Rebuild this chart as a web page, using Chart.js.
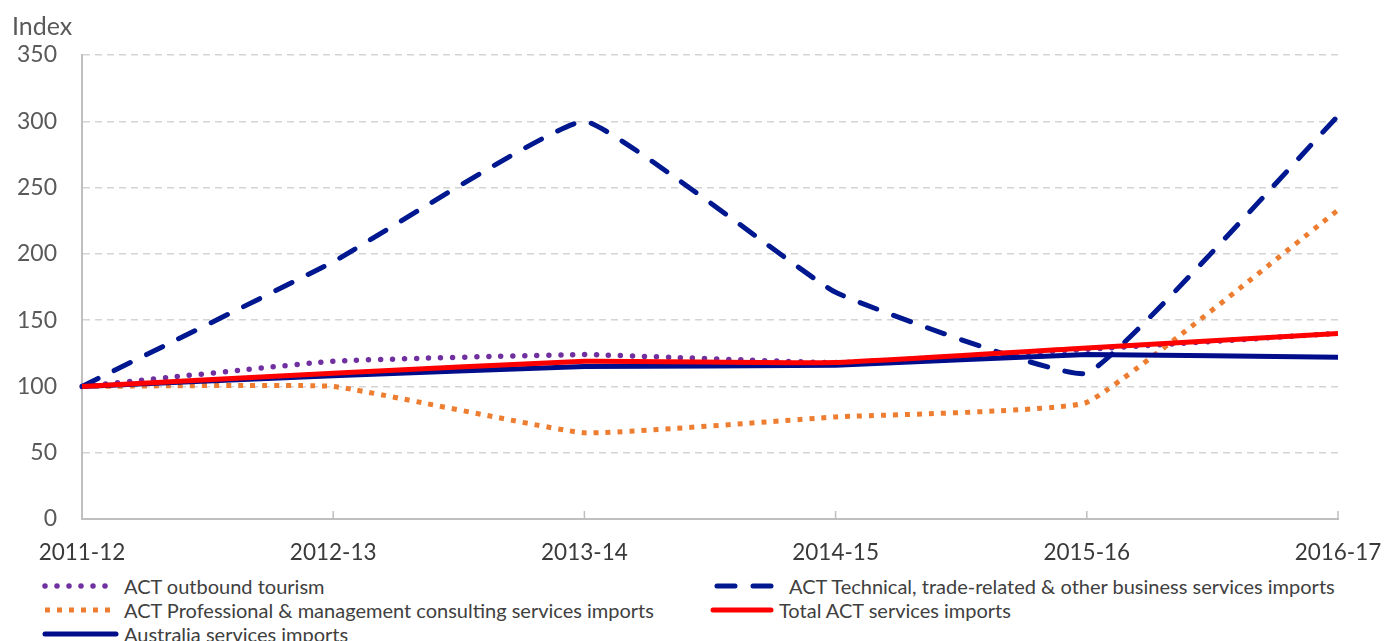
<!DOCTYPE html>
<html>
<head>
<meta charset="utf-8">
<script src="https://cdn.jsdelivr.net/npm/chart.js@4"></script>
<style>
  body { margin:0; background:#fff; font-family: Lato, sans-serif; }
  #wrap { position:relative; width:1385px; height:641px; overflow:hidden; }
  #box { position:absolute; left:0; top:0; width:1385px; height:572px; }
  #yTitle { position:absolute; left:12px; top:10px; font-size:25px; color:#595959; }
  .leg { position:absolute; height:24px; display:flex; align-items:center; font-size:20px; color:#404040; white-space:nowrap; }
  .leg canvas { margin-right:4px; }
</style>
</head>
<body>
<div id="wrap">
  <div id="box"><canvas id="myChart"></canvas></div>
  <div id="yTitle">Index</div>
  <div id="legend"></div>
</div>
<script>

// categories
let years = ['2011-12','2012-13','2013-14','2014-15','2015-16','2016-17']

// series (index, 2011-12 = 100)
let tourism      = [100, 119, 124, 118, 128, 140]
let technical    = [100, 194, 300, 171, 110, 304]
let professional = [100, 100,  65,  77,  88, 233]
let totalAct     = [100, 110, 119, 118, 129, 140]
let australia    = [100, 108, 115, 116, 124, 122]

let yTicks = [0, 50, 100, 150, 200, 250, 300, 350]


let dsets = [
  {
    label:'ACT outbound tourism',
    data:tourism,
    borderColor:'#7030a0',
    borderWidth:5.5,
    borderDash:[0,12],
    borderCapStyle:'round',
    order:5,
    leg:{x:41, y:586, w:79}
  },
  {
    label:'ACT Technical, trade-related & other business services imports',
    data:technical,
    borderColor:'#00188f',
    borderWidth:5,
    borderDash:[18,18],
    borderCapStyle:'round',
    order:4,
    leg:{x:713, y:586, w:72}
  },
  {
    label:'ACT Professional & management consulting services imports',
    data:professional,
    borderColor:'#ed7d31',
    borderWidth:5,
    borderDash:[5,7],
    borderCapStyle:'butt',
    order:3,
    leg:{x:41, y:610, w:79}
  },
  {
    label:'Total ACT services imports',
    data:totalAct,
    borderColor:'#ff0000',
    borderWidth:5,
    order:1,
    leg:{x:709, y:610, w:66}
  },
  {
    label:'Australia services imports',
    data:australia,
    borderColor:'#000d8a',
    borderWidth:5,
    order:2,
    leg:{x:41, y:634, w:79}
  }
]

dsets.forEach(d => {
  d.fill = false
  d.pointRadius = 0
  d.tension = 0.1
  d.borderJoinStyle = 'round'
})


// little tick marks pointing up from the x axis
const xTickPlugin = {
  id:'xTicks',
  afterDatasetsDraw(chart){
    let xs = chart.scales.x
    let ctx = chart.ctx
    let bottom = chart.chartArea.bottom
    ctx.save()
    ctx.strokeStyle = '#bfbfbf'
    ctx.lineWidth = 1.5
    xs.ticks.forEach((t,i) => {
      let px = xs.getPixelForTick(i)
      ctx.beginPath()
      ctx.moveTo(px, bottom)
      ctx.lineTo(px, bottom - 8)
      ctx.stroke()
    })
    ctx.restore()
  }
}


new Chart(
  document.getElementById('myChart'),
  {
    type:'line',
    data:{
      labels:years,
      datasets:dsets,
    },
    plugins:[xTickPlugin],
    options:{
      responsive:true,
      maintainAspectRatio:false,
      animation:false,
      layout:{
        padding:{left:0, right:47, top:55, bottom:0}
      },
      plugins:{
        legend:{display:false},
        tooltip:{enabled:false},
      },
      scales:{
        x:{
          offset:false,
          grid:{display:false},
          border:{display:true, color:'#bfbfbf', width:2},
          ticks:{
            color:'#3a3a3a',
            font:{family:'Lato', size:22.5},
            padding:12,
            maxRotation:0,
            autoSkip:false
          },
          afterFit:(s) => {
            s.height = 53
            s.paddingLeft = 0
            s.paddingRight = 0
          }
        },
        y:{
          min:0,
          max:350,
          afterBuildTicks:(s) => { s.ticks = yTicks.map(v => ({value:v})) },
          grid:{color:'#d4d4d4', lineWidth:1.5, drawTicks:false},
          border:{display:true, color:'#bfbfbf', width:2, dash:[7,5]},
          ticks:{
            color:'#595959',
            font:{family:'Lato', size:23},
            padding:25
          },
          afterFit:(s) => { s.width = 82 }
        }
      }
    }
  }
)


// legend built from the same datasets
let legendDiv = document.getElementById('legend')
dsets.forEach(d => {
  let item = document.createElement('div')
  item.className = 'leg'
  item.style.left = d.leg.x + 'px'
  item.style.top = (d.leg.y - 12) + 'px'
  let c = document.createElement('canvas')
  c.width = d.leg.w
  c.height = 12
  let g = c.getContext('2d')
  g.strokeStyle = d.borderColor
  g.lineWidth = d.borderWidth
  g.lineCap = d.borderCapStyle || 'round'
  if(d.borderDash) g.setLineDash(d.borderDash)
  g.beginPath()
  g.moveTo(4,6)
  g.lineTo(d.leg.w - 4,6)
  g.stroke()
  item.appendChild(c)
  let span = document.createElement('span')
  span.textContent = d.label
  item.appendChild(span)
  legendDiv.appendChild(item)
})

</script>
</body>
</html>
